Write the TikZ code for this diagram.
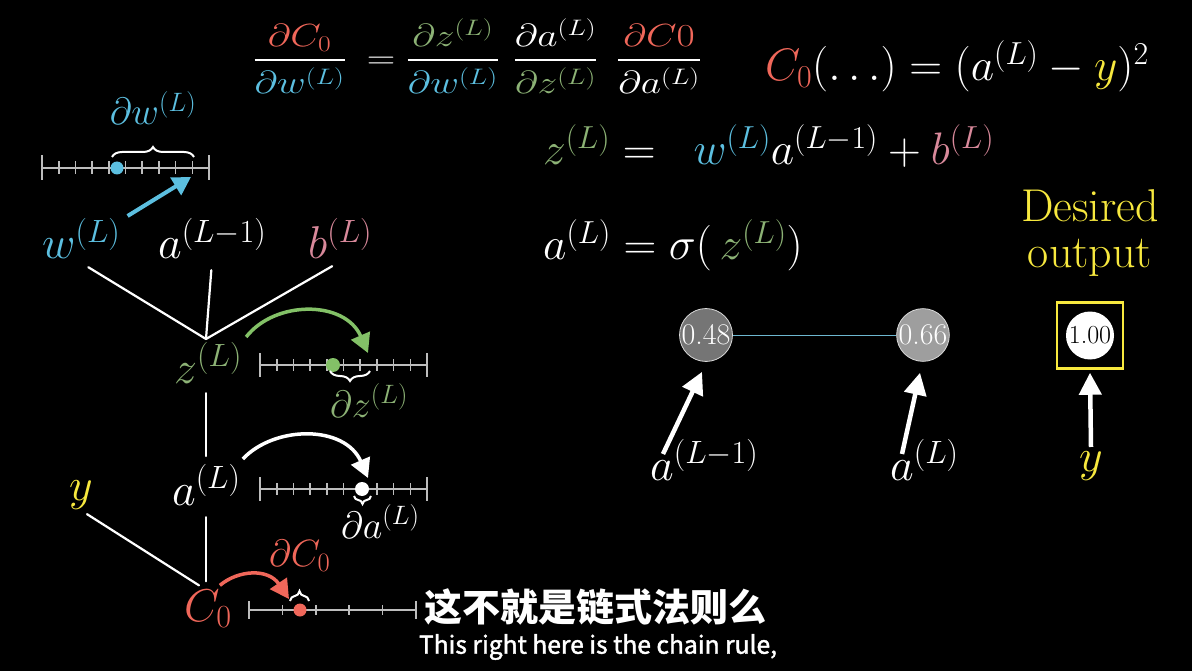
\RequirePackage{fix-cm}
\documentclass[tikz,border=0pt]{standalone}
\usepackage{amsmath}
\usepackage{fontspec}
\newfontfamily\cjk{Noto Sans CJK SC}
\newfontfamily\subfont{Noto Sans CJK SC}[BoldFont={Noto Sans CJK SC}, BoldFeatures={FakeBold=1.6}]
\usetikzlibrary{arrows.meta,calc,decorations.pathreplacing}
\definecolor{tred}{HTML}{F0675A}
\definecolor{tblue}{HTML}{5CBFE0}
\definecolor{tgreen}{HTML}{8CB275}
\definecolor{tgreenA}{HTML}{83C167}
\definecolor{tpink}{HTML}{D9899B}
\definecolor{tyellow}{HTML}{F7E83E}
\definecolor{tgray}{HTML}{BDBDBD}
\definecolor{ngrayA}{HTML}{757575}
\definecolor{ngrayB}{HTML}{9E9E9E}
\definecolor{lblue}{HTML}{6DB6CF}
\newcommand{\myfs}[1]{\fontsize{#1}{#1}\selectfont}
\newcommand{\tfr}[2]{\genfrac{}{}{2pt}{0}{#1}{#2}}
\begin{document}
\begin{tikzpicture}[x=1pt,y=-1pt,
  lbl/.style={inner sep=0pt, font=\myfs{46}, text=white},
  eqlbl/.style={inner sep=0pt, font=\myfs{45.5}, text=white},
  plbl/.style={inner sep=0pt, font=\myfs{38}, text=white},
  tree/.style={white, line width=2.2pt, line cap=round},
  nl/.style={tgray, line width=1.6pt},
  bigarr/.style={white, line width=4.5pt, -{Triangle[width=22pt,length=22pt]}},
  curarr/.style={line width=3.5pt, -{Triangle[width=20pt,length=19pt]}},
  brc/.style={decorate, decoration={brace, amplitude=#1}, white, line width=2pt},
  netnode/.style={circle, inner sep=0pt, draw=white!85!black, line width=0.8pt, font=\myfs{30}}
]
\fill[black] (0,0) rectangle (1192,671);
\useasboundingbox (0,0) rectangle (1192,671);

% ---------- top formula ----------
\node[anchor=base west, inner sep=0pt, font=\myfs{32}, text=white] (eq1) at (253,68.5)
 {\scalebox{1.235}[1]{$\tfr{\color{tred}\partial C_0}{\color{tblue}\partial w^{(L)}}\hspace{8pt} =
   \tfr{\color{tgreen}\partial z^{(L)}}{\color{tblue}\partial w^{(L)}}\;\hspace{2.5pt}
   \tfr{\partial a^{(L)}}{\color{tgreen}\partial z^{(L)}}\;\hspace{6.5pt}
   \tfr{\color{tred}\partial C0}{\partial a^{(L)}}$}};

% ---------- right equations ----------
\node[eqlbl, anchor=base west] (ceq) at (765,81)
 {${\color{tred}C_0}(\ldots) = (a^{(L)} - {\color{tyellow}y})^2$};
\node[eqlbl, anchor=base west] (zeq) at (543,165)
 {${\color{tgreen}z^{(L)}} =\;\; {\color{tblue}w^{(L)}} a^{(L-1)} + {\color{tpink}b^{(L)}}$};
\node[eqlbl, anchor=base west] (aeq) at (543,260)
 {$a^{(L)} = \sigma(\,{\color{tgreen}z^{(L)}})$};

\node[inner sep=0pt, font=\myfs{46}, text=tyellow, anchor=base] (des1) at (1090,222) {Desired};
\node[inner sep=0pt, font=\myfs{46}, text=tyellow, anchor=base] (des2) at (1090,268) {output};

% ---------- network ----------
\node[netnode, minimum size=52pt, fill=ngrayA, text=white] (n1) at (706,335) {0.48};
\node[netnode, minimum size=51pt, fill=ngrayB, text=white] (n2) at (923,335) {0.66};
\draw[lblue, line width=1pt] (n1) -- (n2);
\node[draw=tyellow, line width=2.5pt, minimum size=66pt, inner sep=0pt] (box) at (1090,335.5) {};
\node[circle, inner sep=0pt, minimum size=48pt, fill=white, text=black, font=\myfs{26}] (n3) at (1090,335.5) {1.00};

\node[lbl, anchor=base west] (ra1) at (650,480) {$a^{(L-1)}$};
\node[lbl, anchor=base west] (ra2) at (890,480) {$a^{(L)}$};
\node[lbl, anchor=base, text=tyellow] (ry) at (1091,471) {$y$};
\draw[bigarr] ($(ra1.base west)+(13,-26)$) -- ($(n1.south)+(-4,10)$);
\draw[bigarr] ($(ra2.base west)+(12,-26)$) -- ($(n2.south)+(-3,11)$);
\draw[bigarr] ($(ry.north)+(0,-4)$) -- ($(box.south)+(0,3)$);

% ---------- tree labels ----------
\node[lbl, anchor=base west, text=tblue] (w) at (42,259) {$w^{(L)}$};
\node[lbl, anchor=base west] (am) at (158,259) {$a^{(L-1)}$};
\node[lbl, anchor=base west, text=tpink] (b) at (308,259) {$b^{(L)}$};
\node[lbl, anchor=base west, text=tgreen] (z) at (174,383) {$z^{(L)}$};
\node[lbl, anchor=base west] (aL) at (172,505) {$a^{(L)}$};
\node[lbl, anchor=base west, text=tyellow] (y) at (69,500) {$y$};
\node[lbl, anchor=base west, text=tred] (C) at (184,621) {$C_0$};

\coordinate (jz) at (206,339);
\draw[tree] ($(w.south)+(7,8)$) -- (jz);
\draw[tree] ($(am.south)+(-1,11)$) -- (jz);
\draw[tree] ($(b.south)+(-8,7)$) -- (jz);
\draw[tree, shorten <=10pt, shorten >=8pt] (jz |- z.south) -- (jz |- aL.north);
\draw[tree, shorten <=12pt, shorten >=8pt] (jz |- aL.south) -- (jz |- C.north);
\draw[tree] ($(y.south)+(6,5)$) -- ($(C.north west)+(15,-4)$);

% ---------- number line 1 (w) ----------
\draw[nl] (42,168) -- (209,168);
\draw[nl] (42,155.5) -- (42,180.5);
\draw[nl] (209,155.5) -- (209,180.5);
\foreach \i in {1,...,9} \draw[nl] ({42+\i*16.7},161.5) -- ({42+\i*16.7},174.5);
\fill[tblue] (117,168) circle (6.5);
\draw[brc=10] (112,157) -- (194,157);
\node[plbl, anchor=base, text=tblue] (dw) at (153,125) {$\partial w^{(L)}$};
\coordinate (wt) at (191,177);
\draw[tblue, line width=4pt, -{Triangle[width=20pt,length=18pt]}] ($(w.north east)+(7,-2)$) -- (wt);

% ---------- number line 2 (z) ----------
\draw[nl] (260,365) -- (427,365);
\draw[nl] (260,353) -- (260,377);
\draw[nl] (427,353) -- (427,377);
\foreach \i in {1,...,9} \draw[nl] ({260+\i*16.7},359) -- ({260+\i*16.7},371);
\fill[tgreenA] (333,365) circle (7);
\draw[brc=10] (370,371) -- (330,371);
\node[plbl, anchor=base west, text=tgreen] (dz) at (330,417) {$\partial z^{(L)}$};
\coordinate (zt) at (368,353);
\draw[curarr, tgreenA] ($(z.north east)+(4,-5)$) .. controls (275,300) and (345,300) .. (zt);

% ---------- number line 3 (a) ----------
\draw[nl] (260,489) -- (427,489);
\draw[nl] (260,477) -- (260,501);
\draw[nl] (427,477) -- (427,501);
\foreach \i in {1,...,9} \draw[nl] ({260+\i*16.7},483) -- ({260+\i*16.7},495);
\fill[white] (362,489) circle (7);
\draw[brc=8] (371,496) -- (354,496);
\node[plbl, anchor=base west] (da) at (341,538) {$\partial a^{(L)}$};
\coordinate (at) at (368,478);
\draw[curarr, white] ($(aL.north east)+(2,-5)$) .. controls (275,425) and (345,425) .. (at);

% ---------- number line 4 (C) ----------
\draw[nl] (249,610) -- (416,610);
\draw[nl] (249,601) -- (249,619);
\draw[nl] (416,601) -- (416,619);
\foreach \i in {1,...,4} \draw[nl] ({249+\i*33.4},605) -- ({249+\i*33.4},615);
\fill[tred] (300,610) circle (6.5);
\draw[brc=10] (290,601) -- (309,601);
\node[plbl, anchor=base west, text=tred] (dC) at (269,566) {$\partial C_0$};
\coordinate (ct) at (289,599);
\draw[curarr, tred] ($(C.north east)+(-12,-4)$) .. controls (238,570) and (268,568) .. (ct);

% ---------- subtitles ----------
\node[inner sep=0pt, font=\cjk\bfseries\myfs{38}, text=white] (sub1) at (595,607) {这不就是链式法则么};
\node[inner sep=0pt, font=\subfont\bfseries\myfs{24.6}, text=white] (sub2) at (598,647) {This right here is the chain rule,};
\end{tikzpicture}
\end{document}
